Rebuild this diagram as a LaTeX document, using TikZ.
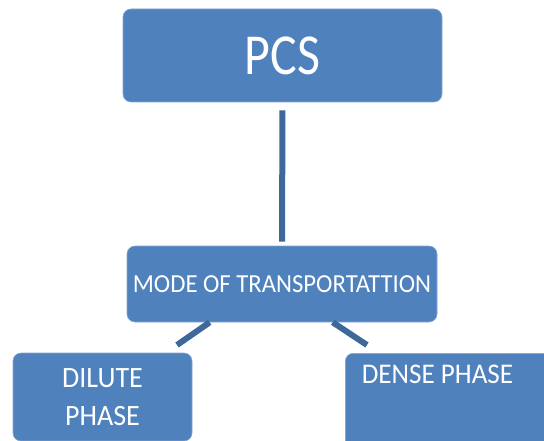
\documentclass[tikz,border=0pt]{standalone}
\usepackage{fontspec}
\setmainfont{Carlito}
\newfontfamily\narrowfont[FakeStretch=0.95]{Carlito}
\newfontfamily\pcsfont[FakeStretch=0.86]{Carlito}
\usepackage{tikz}
\definecolor{boxblue}{RGB}{79,129,189}
\definecolor{linkblue}{RGB}{62,104,154}
\tikzset{
	box/.style={rectangle,rounded corners=8pt,fill=boxblue,draw=boxblue!70!white,line width=0.6pt,text=white,inner sep=0pt,align=center},
	boxtext/.style={text=white,inner sep=0pt,align=center},
	link/.style={draw=linkblue,line width=6pt}
}
\begin{document}
\begin{tikzpicture}[x=1pt,y=-1pt]
	\useasboundingbox (0,0) rectangle (544,441);
	\clip (0,0) rectangle (544,441);
	\node [box,minimum width=319pt,minimum height=93pt,font=\pcsfont\fontsize{58}{60}\selectfont] (pcs) at (282.5,55.5) {PCS};
	\node [box,minimum width=310pt,minimum height=76pt,font=\narrowfont\fontsize{26}{30}\selectfont] (mode) at (282,284) {MODE OF TRANSPORTATTION};
	\node [box,minimum width=179pt,minimum height=88pt,font=\narrowfont\fontsize{29.5}{38}\selectfont] (dilute) at (102.5,397) {DILUTE\\PHASE};
	\node [box,minimum width=230pt,minimum height=120pt,anchor=north west] (dense) at (345,353) {};
	\node [boxtext,font=\narrowfont\fontsize{28.5}{34}\selectfont] (densetext) at (437.5,374) {DENSE PHASE};

	\coordinate (l1) at (177,345);
	\coordinate (r1) at (367,345);

	\draw [link,shorten <=8pt,shorten >=4pt] (pcs.south) -- (mode.north);
	\draw [link] ([xshift=83pt]mode.south west) -- (l1);
	\draw [link] ([xshift=206pt]mode.south west) -- (r1);
\end{tikzpicture}
\end{document}
